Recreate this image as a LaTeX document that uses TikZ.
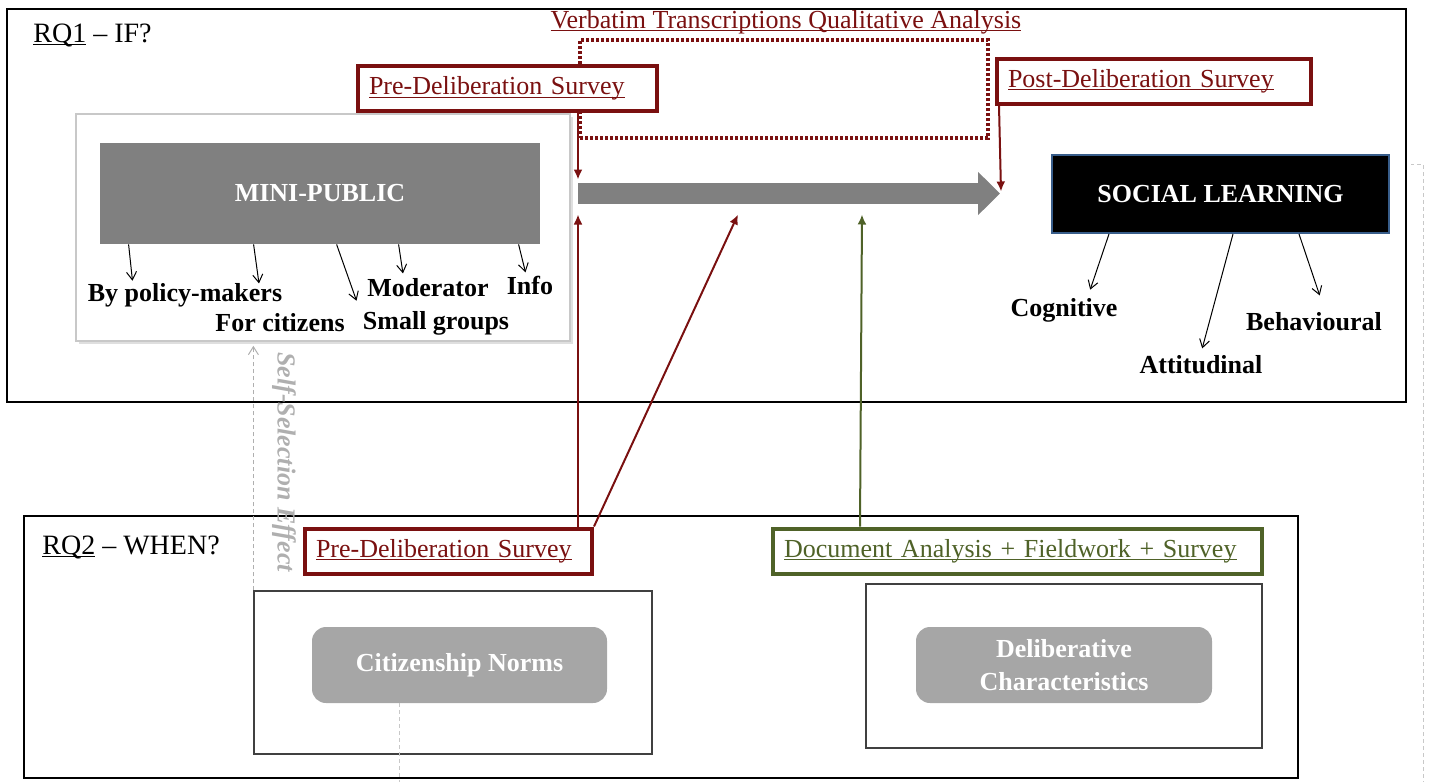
\documentclass[tikz,border=0pt]{standalone}
\usepackage{fontspec}
\setmainfont{Liberation Serif}
\usetikzlibrary{positioning,calc,arrows.meta,shadows}

\definecolor{surveyRed}{RGB}{122,16,16}
\definecolor{docGreen}{RGB}{79,98,40}
\definecolor{boxGrey}{RGB}{128,128,128}
\definecolor{normGrey}{RGB}{166,166,166}
\definecolor{edgeBlue}{RGB}{56,93,138}
\definecolor{lightEdge}{RGB}{200,200,200}
\definecolor{effectGrey}{RGB}{175,175,175}

\newsavebox{\underbox}
\newcommand{\lineunder}[1]{\sbox{\underbox}{#1}\rlap{\rule[-1.6pt]{\wd\underbox}{0.5pt}}\usebox{\underbox}}

\begin{document}
\begin{tikzpicture}[x=0.5pt, y=-0.5pt, >=latex]

    %
    % Styles for boxes, labels and edges
    %
    \tikzstyle{plainText} = [font={\fontsize{13}{16.5}\selectfont}, inner sep=1pt]
    \tikzstyle{boldText} = [plainText, font={\fontsize{13}{16.5}\selectfont\bfseries}]
    \tikzstyle{titleText} = [plainText, font={\fontsize{14}{16}\selectfont}, anchor=west]
    \tikzstyle{frame} = [draw=black, line width=1pt]
    \tikzstyle{thinBox} = [draw=black!75, line width=0.6pt]
    \tikzstyle{surveyBox} = [draw=surveyRed, line width=2pt, fill=white, text=surveyRed,
                             plainText, inner xsep=5.5pt, align=left, minimum height=22.5pt]
    \tikzstyle{docBox} = [surveyBox, draw=docGreen, text=docGreen]
    \tikzstyle{darkBox} = [boldText, text=white, fill=boxGrey]
    \tikzstyle{normBox} = [boldText, text=white, fill=normGrey, rounded corners=7pt, align=center]
    \tikzstyle{subArrow} = [black, line width=0.5pt, -{Straight Barb[length=4pt,width=5pt]}]
    \tikzstyle{surveyArrow} = [draw=surveyRed, line width=1pt, -{Latex[length=5pt,width=4.5pt]}]
    \tikzstyle{docArrow} = [surveyArrow, draw=docGreen]
    \tikzstyle{flowArrow} = [draw=boxGrey, line width=10.5pt, -{Triangle[length=11pt,width=21pt]}]
    \tikzstyle{selfArrow} = [draw=effectGrey, line width=0.5pt, dash pattern=on 2pt off 1.5pt,
                             -{Straight Barb[length=4pt,width=5pt]}]
    \tikzstyle{returnLine} = [draw=lightEdge, line width=0.5pt, dash pattern=on 2pt off 1.5pt]

    \useasboundingbox (0,0) rectangle (1431,782);

    %
    % Position boxes
    %
    \node[frame, minimum width=699.5pt, minimum height=196.5pt] (rqOne) at (706.5,205.5) {};
    \node[frame, minimum width=637pt, minimum height=131pt] (rqTwo) at (661,647) {};
    \node[titleText] (rqOneTitle) at (31,35) {\lineunder{RQ1} – IF?};
    \node[titleText] (rqTwoTitle) at (40,547) {\lineunder{RQ2} – WHEN?};

    \node[plainText, text=surveyRed] (verbatimLabel) at (786,22)
        {\lineunder{Verbatim Transcriptions Qualitative Analysis}};
    \node[draw=surveyRed, line width=1.6pt, dash pattern=on 1.5pt off 1pt,
          minimum width=204pt, minimum height=49pt] (verbatimBox) at (784,89) {};

    \node[surveyBox, text width=138.5pt] (preTop) at (507.5,88.5) {\lineunder{Pre-Deliberation Survey}};
    \node[surveyBox, text width=146pt] (postBox) at (1154,81) {\lineunder{Post-Deliberation Survey}};

    \node[draw=lightEdge, line width=0.8pt, fill=white,
          drop shadow={shadow xshift=1.5pt, shadow yshift=-1.5pt, opacity=0.25},
          minimum width=247pt, minimum height=113.5pt] (mpOuter) at (323,227.5) {};
    \node[darkBox, minimum width=220pt, minimum height=50.5pt] (miniPublic) at (320,193.5) {MINI-PUBLIC};

    \node[boldText] (byPolicy) at (185,295) {By policy-makers};
    \node[boldText] (forCitizens) at (280,323) {For citizens};
    \node[boldText] (smallGroups) at (436,323) {Small groups};
    \node[boldText] (moderator) at (428,288) {Moderator};
    \node[boldText] (info) at (530,285) {Info};

    \node[boldText, text=white, fill=black, draw=edgeBlue, line width=1pt,
          minimum width=168.5pt, minimum height=39pt] (social) at (1220.5,194) {SOCIAL LEARNING};
    \node[boldText] (cognitive) at (1064,310) {Cognitive};
    \node[boldText] (attitudinal) at (1201,365) {Attitudinal};
    \node[boldText] (behavioural) at (1314,322) {Behavioural};

    \node[surveyBox, text width=132.5pt] (preBottom) at (448.5,551) {\lineunder{Pre-Deliberation Survey}};
    \node[docBox, text width=233.5pt] (docBox) at (1017.5,551)
        {\lineunder{Document Analysis + Fieldwork + Survey}};

    \node[thinBox, minimum width=199pt, minimum height=81.5pt] (citOuter) at (453,672.5) {};
    \node[normBox, minimum width=147.5pt, minimum height=38pt] (citNorms) at (459.5,665) {Citizenship Norms};
    \node[thinBox, minimum width=198pt, minimum height=82pt] (delibOuter) at (1064,666) {};
    \node[normBox, minimum width=148pt, minimum height=38pt] (delibChar) at (1064,665)
        {Deliberative\\Characteristics};

    \node[boldText, text=effectGrey, font={\fontsize{13}{16}\selectfont\bfseries\itshape},
          rotate=-90] (selfSelection) at (284,462) {Self-Selection Effect};

    %
    % Connect boxes via edges
    %
    \coordinate (flowStart) at (578,193.5);
    \coordinate (flowEnd) at (1000,193.5);
    \draw[flowArrow] (flowStart) -- (flowEnd);

    \draw[subArrow] ($(miniPublic.south west)+(29,0)$) -- ($(byPolicy.north west)+(47,0)$);
    \draw[subArrow] ($(miniPublic.south west)+(154,0)$) -- ($(forCitizens.north west)+(46,-28)$);
    \draw[subArrow] ($(miniPublic.south west)+(237,0)$) -- ($(smallGroups.north west)+(-4,-8)$);
    \draw[subArrow] ($(miniPublic.south west)+(299,0)$) -- ($(moderator.north west)+(38,-3)$);
    \draw[subArrow] ($(miniPublic.south west)+(419,0)$) -- ($(info.north west)+(21,-1)$);

    \draw[subArrow] ($(social.south west)+(58,0)$) -- ($(cognitive.north west)+(82,-6)$);
    \draw[subArrow] ($(social.south west)+(182,0)$) -- ($(attitudinal.north west)+(65,-5)$);
    \draw[subArrow] ($(social.south west)+(248,0)$) -- ($(behavioural.north west)+(76,-15)$);

    \draw[surveyArrow] (preTop.south -| flowStart) -- ($(flowStart)+(0,-14)$);
    \draw[surveyArrow] ($(postBox.south west)+(4,0)$) -- ($(flowEnd)+(1,-2)$);
    \draw[surveyArrow] (preBottom.north -| flowStart) -- ($(flowStart)+(0,21)$);
    \draw[surveyArrow] (preBottom.north east) -- ($(flowStart)+(160,21)$);
    \draw[docArrow] ($(docBox.north west)+(89,0)$) -- ($(flowStart)+(284,21)$);

    \draw[selfArrow] (citOuter.north west) -- ($(mpOuter.south -| citOuter.north west)+(0,4)$);
    \draw[returnLine] ($(citNorms.south west)+(88,0)$) -- ++(0,110)
        -| ($(rqOne.north east)+(16,156)$) -- ($(rqOne.north east)+(4,156)$);
  \end{tikzpicture}
\end{document}
